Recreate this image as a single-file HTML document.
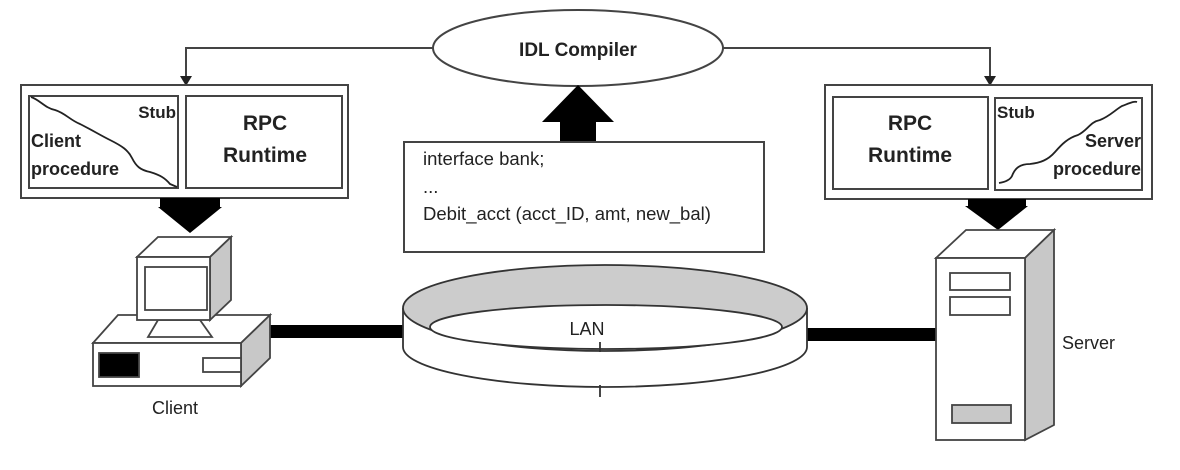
<!DOCTYPE html>
<html><head><meta charset="utf-8"><style>
html,body{margin:0;padding:0;background:#fff;}
svg{display:block;}
text{font-family:"Liberation Sans",sans-serif;fill:#222;}
</style></head><body>
<svg width="1180" height="470" viewBox="0 0 1180 470" xmlns="http://www.w3.org/2000/svg">
<g fill="none" stroke="#444" stroke-width="2">
<ellipse cx="578" cy="48" rx="145" ry="38" fill="#fff"/>
<polyline points="433,48 186,48 186,78"/>
<polyline points="723,48 990,48 990,78"/>
</g>
<polygon points="180,76 192,76 186,86" fill="#222"/>
<polygon points="984,76 996,76 990,86" fill="#222"/>
<text x="578" y="56" font-size="19" font-weight="bold" text-anchor="middle">IDL Compiler</text>

<g fill="#fff" stroke="#444" stroke-width="2">
<rect x="21" y="85" width="327" height="113"/>
<rect x="29" y="96" width="149" height="92"/>
<rect x="186" y="96" width="156" height="92"/>
<rect x="825" y="85" width="327" height="114"/>
<rect x="833" y="97" width="155" height="92"/>
<rect x="995" y="98" width="147" height="92"/>
</g>
<path d="M31,97 C40,100 45,108 55,110 C65,113 70,120 80,124 C92,130 100,135 110,140 C122,146 128,150 132,158 C136,166 140,170 150,172 C160,175 165,178 170,184 L177,187" fill="none" stroke="#222" stroke-width="1.8"/>
<path d="M999,183 C1005,182 1010,180 1012,176 C1015,168 1020,164 1030,164 C1040,163 1048,160 1055,152 C1062,144 1068,138 1078,135 C1088,130 1090,122 1100,120 C1110,116 1115,110 1122,106 C1130,103 1134,101 1137,102" fill="none" stroke="#222" stroke-width="1.8"/>
<text x="265" y="130" font-size="21" font-weight="bold" text-anchor="middle">RPC</text>
<text x="265" y="162" font-size="21" font-weight="bold" text-anchor="middle">Runtime</text>
<text x="176" y="118" font-size="17" font-weight="bold" text-anchor="end">Stub</text>
<text x="31" y="147" font-size="18" font-weight="bold">Client</text>
<text x="31" y="175" font-size="18" font-weight="bold">procedure</text>
<text x="910" y="130" font-size="21" font-weight="bold" text-anchor="middle">RPC</text>
<text x="910" y="162" font-size="21" font-weight="bold" text-anchor="middle">Runtime</text>
<text x="997" y="118" font-size="17" font-weight="bold">Stub</text>
<text x="1141" y="147" font-size="18" font-weight="bold" text-anchor="end">Server</text>
<text x="1141" y="175" font-size="18" font-weight="bold" text-anchor="end">procedure</text>

<polygon points="160,198 220,198 220,207 222,207 190,233 158,207 160,207" fill="#000"/>
<polygon points="968,199 1026,199 1026,206 1028,206 998,230 965,206 968,206" fill="#000"/>
<polygon points="578,85 614,122 596,122 596,142 560,142 560,122 542,122" fill="#000"/>

<rect x="404" y="142" width="360" height="110" fill="#fff" stroke="#444" stroke-width="2"/>
<text x="423" y="165" font-size="18.5">interface bank;</text>
<text x="423" y="193" font-size="18.5">...</text>
<text x="423" y="220" font-size="18.5">Debit_acct (acct_ID, amt, new_bal)</text>

<rect x="268" y="325" width="136" height="13" fill="#000"/>
<rect x="795" y="328" width="141" height="13" fill="#000"/>

<g stroke="#333" stroke-width="1.8">
<path d="M403,308 L403,347 A202,40 0 0 0 807,347 L807,308" fill="#fff"/>
<ellipse cx="605" cy="308" rx="202" ry="43" fill="#ccc"/>
<path d="M430,327 A176,22 0 0 1 782,327 A176,22 0 0 1 605,349 A176,22 0 0 1 430,327 Z" fill="#fff"/>
<line x1="600" y1="342" x2="600" y2="352"/>
<line x1="600" y1="385" x2="600" y2="397"/>
</g>
<text x="587" y="335" font-size="18" text-anchor="middle">LAN</text>

<g stroke="#444" stroke-width="1.8">
<polygon points="93,343 118,315 270,315 241,343" fill="#fff"/>
<polygon points="241,343 270,315 270,358 241,386" fill="#c8c8c8"/>
<rect x="93" y="343" width="148" height="43" fill="#fff"/>
<rect x="99" y="353" width="40" height="24" fill="#000"/>
<rect x="203" y="358" width="38" height="14" fill="#fff"/>
<polygon points="158,320 200,320 212,337 148,337" fill="#fff"/>
<polygon points="137,257 158,237 231,237 210,257" fill="#fff"/>
<polygon points="210,257 231,237 231,300 210,320" fill="#c8c8c8"/>
<rect x="137" y="257" width="73" height="63" fill="#fff"/>
<rect x="145" y="267" width="62" height="43" fill="#fff"/>
</g>
<text x="175" y="414" font-size="18" text-anchor="middle">Client</text>

<g stroke="#444" stroke-width="1.8">
<polygon points="936,258 966,230 1054,230 1025,258" fill="#fff"/>
<polygon points="1025,258 1054,230 1054,425 1025,440" fill="#c8c8c8"/>
<rect x="936" y="258" width="89" height="182" fill="#fff"/>
<rect x="950" y="273" width="60" height="17" fill="#fff"/>
<rect x="950" y="297" width="60" height="18" fill="#fff"/>
<rect x="952" y="405" width="59" height="18" fill="#c8c8c8"/>
</g>
<text x="1062" y="349" font-size="18">Server</text>
</svg>
</body></html>
